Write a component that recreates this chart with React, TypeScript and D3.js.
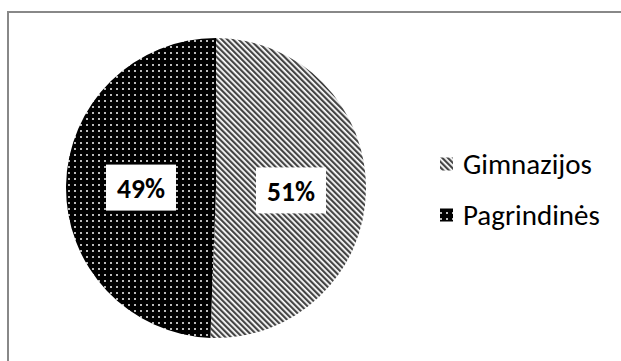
import React from "react";
import * as d3 from "d3";

const categories = ["Gimnazijos", "Pagrindinės"];
const values = [50.6, 49.4];
const labels = ["51%", "49%"];

const W = 621;
const H = 361;
const CX = 216;
const CY = 188;
const R = 150;

export default function App() {
  const pie = d3.pie<number>().sort(null).value((d) => d);
  const arcs = pie(values);
  const arcGen = d3.arc<d3.PieArcDatum<number>>().innerRadius(0).outerRadius(R);
  const labelArc = d3.arc<d3.PieArcDatum<number>>().innerRadius(R * 0.5).outerRadius(R * 0.5);
  const fills = ["url(#stripes)", "url(#dots)"];
  const font = "Carlito, 'Liberation Sans', Arial, sans-serif";
  const legendX = 440;
  const legendY = d3.scaleBand<string>().domain(categories).range([138, 240]);

  return (
    <svg
      width={W}
      height={H}
      style={{ position: "absolute", left: 0, top: 0, background: "#fff" }}
      fontFamily={font}
    >
      <defs>
        <pattern id="stripes" patternUnits="userSpaceOnUse" width={4} height={4} patternTransform="rotate(-45)">
          <rect x={0} y={0} width={4} height={4} fill="#fff" />
          <rect x={0} y={0} width={2.2} height={4} fill="#444" />
        </pattern>
        <pattern id="dots" patternUnits="userSpaceOnUse" width={6} height={6}>
          <rect x={0} y={0} width={6} height={6} fill="#000" />
          <rect x={2} y={2} width={2} height={2} fill="#bbb" />
        </pattern>
      </defs>
      <rect x={0} y={0} width={W} height={H} fill="#fff" />
      <line x1={8} y1={11} x2={8} y2={H} stroke="#888" strokeWidth={2} />
      <line x1={7} y1={12} x2={W} y2={12} stroke="#888" strokeWidth={2} />
      <g transform={`translate(${CX},${CY})`}>
        {arcs.map((a, i) => (
          <path key={i} d={arcGen(a) || ""} fill={fills[i]} />
        ))}
        {arcs.map((a, i) => {
          const [x, y] = labelArc.centroid(a);
          return (
            <g key={"l" + i} transform={`translate(${x},${y + 1})`}>
              <rect x={-35} y={-23} width={70} height={46} fill="#fff" />
              <text
                textAnchor="middle"
                y={10.5}
                fontSize={27.5}
                fontWeight="bold"
                fill="#000"
              >
                {labels[i]}
              </text>
            </g>
          );
        })}
      </g>
      {categories.map((c, i) => {
        const y = (legendY(c) || 0) + legendY.bandwidth() / 2;
        return (
          <g key={c}>
            <rect x={legendX} y={y - 6} width={13} height={13} fill={fills[i]} />
            <text x={463} y={y + 10} fontSize={29} fill="#000">
              {c}
            </text>
          </g>
        );
      })}
    </svg>
  );
}
